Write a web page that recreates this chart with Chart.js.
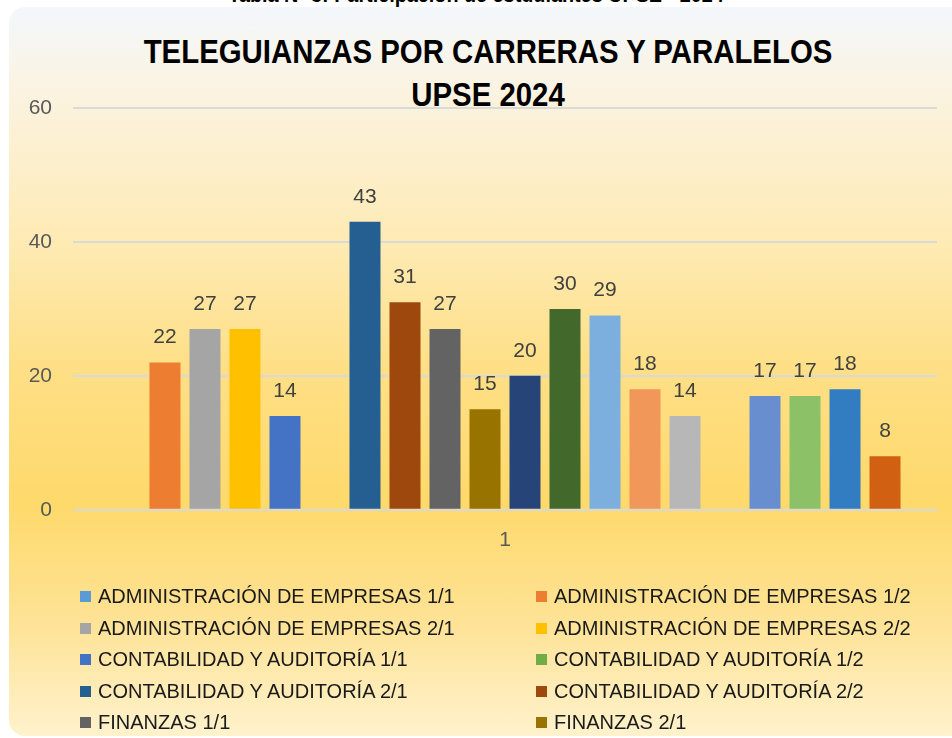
<!DOCTYPE html>
<html>
<head>
<meta charset="utf-8">
<script src="https://cdn.jsdelivr.net/npm/chart.js@4/dist/chart.umd.min.js"></script>
<style>
  body { margin: 0; width: 952px; height: 738px; overflow: hidden; background: #fff; position: relative; }
  #caption { position: absolute; left: 0; width: 952px; top: -18px; text-align: center;
    font: bold 22px "Liberation Sans", sans-serif; color: #000; transform: scaleX(0.9); }
  #box { position: absolute; left: 9px; top: 7px; width: 970px; height: 729px; border-radius: 16px;
    background: linear-gradient(to bottom, #f3f7fc 0%, #fbf3e0 12%, #feeab2 33%, #fedf85 50%, #fed96b 68%, #fee398 85%, #fff2cc 100%); }
  #chart { position: absolute; left: 0; top: 0; }
  #title { position: absolute; left: 0; width: 976px; top: 30px; text-align: center;
    font: bold 33px/43px "Liberation Sans", sans-serif; color: #000; transform: scaleX(0.89); }
  #legend { position: absolute; left: 80px; top: 581px; display: grid; grid-template-columns: 456px 400px;
    font: 20px "Liberation Sans", sans-serif; color: #1a1a1a; }
  #legend div { height: 31.5px; display: flex; align-items: center; white-space: nowrap; }
  #legend span { display: inline-block; width: 11px; height: 11px; margin-right: 7px; }
</style>
</head>
<body>
<div id="caption">Tabla Nº 3: Participación de estudiantes UPSE - 2024</div>
<div id="box"></div>
<div id="title">TELEGUIANZAS POR CARRERAS Y PARALELOS<br>UPSE 2024</div>
<canvas id="chart" width="952" height="738"></canvas>
<div id="legend"></div>
<script>
const categories = ['1'];
const seriesNames = [
  'ADMINISTRACIÓN DE EMPRESAS 1/1', 'ADMINISTRACIÓN DE EMPRESAS 1/2',
  'ADMINISTRACIÓN DE EMPRESAS 2/1', 'ADMINISTRACIÓN DE EMPRESAS 2/2',
  'CONTABILIDAD Y AUDITORÍA 1/1', 'CONTABILIDAD Y AUDITORÍA 1/2',
  'CONTABILIDAD Y AUDITORÍA 2/1', 'CONTABILIDAD Y AUDITORÍA 2/2',
  'FINANZAS 1/1', 'FINANZAS 2/1',
  'FINANZAS 2/2', 'GESTIÓN DEL TALENTO HUMANO 1/1',
  'GESTIÓN DEL TALENTO HUMANO 1/2', 'GESTIÓN DEL TALENTO HUMANO 2/1',
  'GESTIÓN DEL TALENTO HUMANO 2/2', 'MARKETING 1/1',
  'MARKETING 1/2', 'MARKETING 2/1', 'MARKETING 2/2', 'TURISMO 1/1'
];
const seriesValues = [null, 22, 27, 27, 14, null, 43, 31, 27, 15, 20, 30, 29, 18, 14, null, 17, 17, 18, 8];
const seriesColors = [
  '#5B9BD5', '#ED7D31', '#A5A5A5', '#FFC000', '#4472C4', '#70AD47',
  '#255E91', '#9E480E', '#636363', '#997300', '#264478', '#43682B',
  '#7CAFDD', '#F1975A', '#B7B7B7', '#FFCD33', '#698ED0', '#8CC168',
  '#327DC2', '#D26012'
];
const yTicks = [0, 20, 40, 60];
const legendCount = 10; // the rest of the legend is cut off in the picture

const datasets = seriesNames.map((name, i) => ({
  label: name,
  data: [seriesValues[i]],
  backgroundColor: seriesColors[i],
  borderWidth: 0
}));

const valueLabels = {
  id: 'valueLabels',
  afterDatasetsDraw(chart) {
    const ctx = chart.ctx;
    ctx.save();
    ctx.font = '21px "Liberation Sans", sans-serif';
    ctx.fillStyle = '#404040';
    ctx.textAlign = 'center';
    ctx.textBaseline = 'middle';
    chart.data.datasets.forEach((ds, i) => {
      chart.getDatasetMeta(i).data.forEach((bar, j) => {
        const v = ds.data[j];
        if (v == null) return;
        ctx.fillText(v, bar.x, bar.y - 25);
      });
    });
    ctx.restore();
  }
};

const chart = new Chart(document.getElementById('chart'), {
  type: 'bar',
  data: { labels: categories, datasets: datasets },
  options: {
    responsive: false,
    animation: false,
    layout: { padding: { left: 0, right: 15, top: 108, bottom: 175 } },
    plugins: { legend: { display: false }, title: { display: false }, tooltip: { enabled: false } },
    datasets: { bar: { categoryPercentage: 0.926, barPercentage: 0.775 } },
    scales: {
      x: {
        grid: { display: false },
        border: { display: false },
        ticks: { color: '#595959', padding: 10, font: { size: 21, family: '"Liberation Sans", sans-serif' } }
      },
      y: {
        min: 0, max: 60,
        afterFit(scale) { scale.width = 73; },
        afterBuildTicks(scale) { scale.ticks = yTicks.map(v => ({ value: v })); },
        grid: { color: '#d9d9d9', lineWidth: 2, drawTicks: false },
        border: { display: false },
        ticks: { color: '#595959', padding: 21, font: { size: 21, family: '"Liberation Sans", sans-serif' } }
      }
    }
  },
  plugins: [valueLabels]
});

const legend = document.getElementById('legend');
datasets.slice(0, legendCount).forEach(ds => {
  const item = document.createElement('div');
  const box = document.createElement('span');
  box.style.background = ds.backgroundColor;
  item.appendChild(box);
  item.appendChild(document.createTextNode(ds.label));
  legend.appendChild(item);
});
</script>
</body>
</html>
